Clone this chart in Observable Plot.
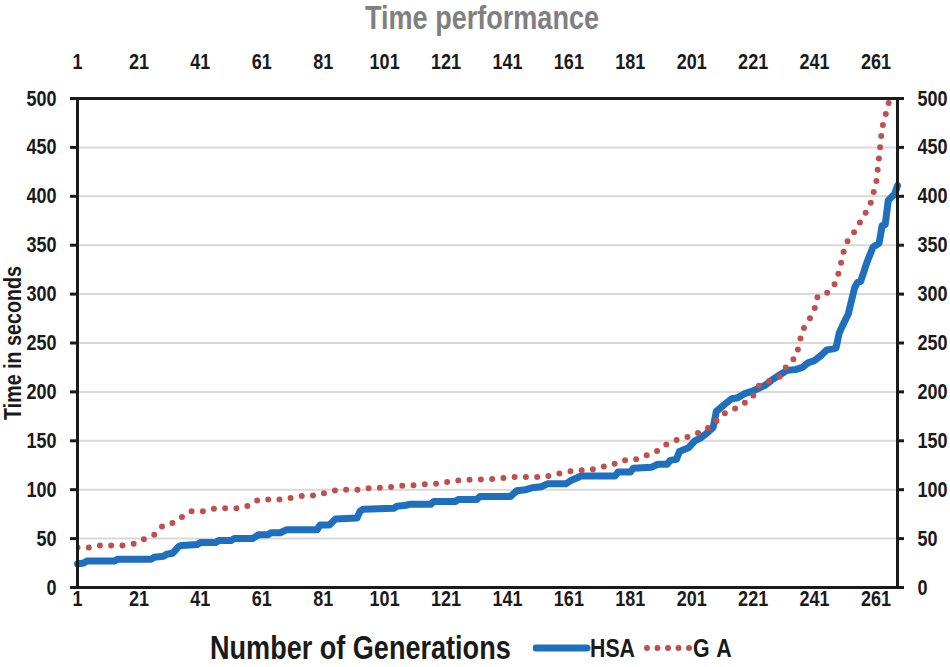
<!DOCTYPE html>
<html><head><meta charset="utf-8">
<script src="https://cdn.jsdelivr.net/npm/d3@7"></script>
<script src="https://cdn.jsdelivr.net/npm/@observablehq/plot@0.6"></script>
<style>
body{margin:0;background:#fff;}
#wrap{position:relative;width:950px;height:667px;overflow:hidden;font-family:"Liberation Sans",Arial,sans-serif;font-weight:bold;color:#1a1a1a;}
#title{position:absolute;top:0;left:482px;transform:translateX(-50%) scaleX(0.82);font-size:33px;color:#808080;white-space:nowrap;line-height:36px;}
#chart{position:absolute;top:38px;left:0;}
#xlabel{position:absolute;left:210px;top:628px;font-size:33px;line-height:39px;white-space:nowrap;transform:scaleX(0.82);transform-origin:0 50%;}
.leg{position:absolute;top:629px;font-size:26px;line-height:39px;white-space:nowrap;transform:scaleX(0.82);transform-origin:0 50%;}
.sw{position:absolute;top:638px;}
</style></head>
<body>
<div id="wrap">
  <div id="title">Time performance</div>
  <div id="chart"></div>
  <div id="xlabel">Number of Generations</div>
  <svg class="sw" id="swHSA" style="left:533px" width="58" height="20"></svg>
  <div class="leg" style="left:590px">HSA</div>
  <svg class="sw" id="swGA" style="left:643px" width="52" height="20"></svg>
  <div class="leg" style="left:693px;letter-spacing:8px">GA</div>
</div>
<script>
// Generation index (x) and time in seconds (y) at the vertices of each series
const hsaGen = [1,3,4,13,14,25,26,29,30,32,34,35,40,41,46,47,51,52,58,60,63,64,67,69,79,80,83,85,92,93,94,104,105,108,109,116,117,124,125,131,132,142,144,147,149,152,154,160,162,165,176,177,181,182,188,190,193,194,196,197,200,202,204,206,208,209,212,214,216,218,221,223,225,227,230,232,235,237,239,241,243,245,247,248,249,250,252,254,255,256,258,260,261,262,263,264,265,267,268];
const hsaTime = [24,25,27,27,29,29,31,32,34,35,42,43,44,46,46,48,48,50,50,54,54,56,56,59,59,64,64,70,71,78,80,81,83,84,85,85,88,88,90,90,93,93,99,100,102,103,106,106,110,114,114,118,118,122,123,126,126,130,131,139,143,150,153,158,164,180,188,193,194,198,201,204,207,212,218,222,223,225,230,232,237,243,244,245,260,267,280,306,312,313,332,348,350,352,370,371,396,402,411];

const gaGen = [1,5,8,16,20,23,26,29,32,35,38,42,46,54,57,60,68,71,75,79,82,86,93,97,102,105,109,112,116,119,123,127,138,142,153,157,160,164,168,171,175,178,182,185,189,192,195,199,202,205,208,211,214,218,221,223,226,230,232,235,236,237,239,241,242,245,248,249,250,251,253,255,257,259,260,261,262,263,264,265,266,268];
const gaTime = [41,41,43,43,45,50,54,64,66,72,78,78,81,81,84,90,90,92,94,94,97,100,100,102,102,104,104,105,106,106,109,110,111,113,113,116,118,120,120,123,125,130,130,134,138,145,150,153,157,160,167,177,181,188,196,207,211,216,227,236,249,263,272,285,298,301,312,324,337,351,359,369,380,390,402,412,440,470,482,494,506,530];

const xTicks = [1,21,41,61,81,101,121,141,161,181,201,221,241,261];
const yTicks = [0,50,100,150,200,250,300,350,400,450,500];
const seriesNames = ["HSA","GA"];
const seriesColors = ["#1f6fbf","#c0504d"];
const yLabel = "Time in seconds";

const hsa = hsaGen.map((g,i)=>({gen:g,time:hsaTime[i]}));
const ga = gaGen.map((g,i)=>({gen:g,time:gaTime[i]}));
const font = '"Liberation Sans",Arial,sans-serif';

const chart = Plot.plot({
  width:950, height:590,
  marginTop:60, marginBottom:41, marginLeft:77, marginRight:53,
  style:{fontFamily:font, fontWeight:"bold", fontSize:"22px", color:"#1a1a1a", background:"white", overflow:"visible"},
  x:{domain:[1,268]},
  y:{domain:[0,500]},
  marks:[
    Plot.gridY(yTicks.filter(d=>d>0 && d<500), {stroke:"#d9d9d9", strokeOpacity:1, strokeWidth:2}),
    Plot.line(hsa, {x:"gen", y:"time", stroke:seriesColors[0], strokeWidth:7, strokeLinejoin:"round", strokeLinecap:"round"}),
    Plot.line(ga, {x:"gen", y:"time", stroke:seriesColors[1], strokeWidth:6, strokeDasharray:"0 11.3", strokeLinecap:"round", clip:true}),
    Plot.frame({stroke:"#1a1a1a", strokeWidth:3}),
    Plot.axisX(xTicks, {anchor:"top", tickSize:0, tickPadding:30, label:null, fontSize:22}),
    Plot.axisX(xTicks, {anchor:"bottom", tickSize:0, tickPadding:3, label:null, fontSize:22}),
    Plot.axisY(yTicks, {anchor:"left", tickSize:7, tickPadding:14, label:null, strokeWidth:3, fontSize:22}),
    Plot.axisY(yTicks, {anchor:"right", tickSize:6, tickPadding:14, label:null, strokeWidth:3, fontSize:22}),
    Plot.text([yLabel], {frameAnchor:"left", dx:-64, rotate:-90, textAnchor:"middle", fontSize:24, fontWeight:"bold"})
  ]
});
document.getElementById("chart").appendChild(chart);

// condense all chart texts horizontally (narrow bold face like the reference)
chart.querySelectorAll("text").forEach(t => {
  let tr = t.getAttribute("transform") || "";
  const x = t.getAttribute("x");
  if (x != null && !isNaN(+x)) { tr += ` translate(${x},0)`; t.removeAttribute("x"); }
  t.setAttribute("transform", (tr + " scale(0.82,1)").trim());
});

// legend swatches
const ns = "http://www.w3.org/2000/svg";
function swatch(id, color, width, dash){
  const s = document.getElementById(id);
  const l = document.createElementNS(ns,"line");
  l.setAttribute("x1", dash ? 4 : 3); l.setAttribute("x2", s.getAttribute("width")-4);
  l.setAttribute("y1",10); l.setAttribute("y2",10);
  l.setAttribute("stroke", color); l.setAttribute("stroke-width", width);
  l.setAttribute("stroke-linecap","round");
  if (dash) l.setAttribute("stroke-dasharray", dash);
  s.appendChild(l);
}
swatch("swHSA", seriesColors[0], 7, null);
swatch("swGA", seriesColors[1], 6, "0 10.5");
</script>
</body></html>
